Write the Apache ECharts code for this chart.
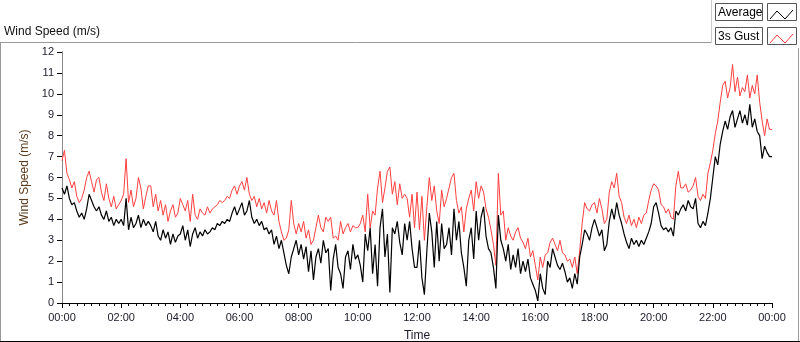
<!DOCTYPE html>
<html>
<head>
<meta charset="utf-8">
<script src="https://cdn.jsdelivr.net/npm/echarts@6/dist/echarts.min.js"></script>
<style>
  html, body { margin: 0; padding: 0; background: #fff; }
  #main { width: 800px; height: 342px; }
</style>
</head>
<body>
<div id="main"></div>
<script>
// one sample every 5 minutes, 00:00 -> 24:00
var stepMin = 5;

// Average (black)
var avgSpeed = [
    5.5, 5.2, 5.6, 5.0, 4.7, 4.8, 4.4, 4.1, 4.3, 4.0, 4.5, 5.2,
    4.9, 4.6, 4.4, 4.6, 4.2, 4.0, 4.4, 3.9, 4.1, 3.7, 4.0, 3.8,
    4.0, 3.7, 5.0, 3.5, 4.1, 3.6, 3.8, 4.2, 3.6, 4.0, 3.7, 3.9,
    3.7, 3.4, 3.9, 3.2, 3.0, 3.5, 3.1, 3.4, 2.8, 3.3, 2.9, 3.2,
    3.3, 3.7, 3.0, 3.5, 2.7, 3.3, 3.6, 3.1, 3.4, 3.2, 3.5, 3.3,
    3.4, 3.6, 3.5, 3.8, 3.7, 3.9, 3.8, 4.0, 3.9, 4.3, 4.6, 4.2,
    4.5, 4.8, 4.2, 4.4, 4.9, 4.1, 3.8, 4.0, 3.7, 3.9, 3.5, 3.6,
    3.3, 3.5, 2.8, 3.2, 2.6, 3.0, 2.4, 1.8, 1.4, 2.2, 2.6, 3.0,
    2.3, 2.8, 2.1, 2.7, 1.5, 2.5, 1.1, 2.2, 2.6, 1.9, 3.0, 2.4,
    2.6, 0.6, 2.1, 2.8, 1.7, 1.4, 0.7, 2.2, 2.5, 1.6, 2.8, 2.1,
    2.3, 1.8, 1.0, 3.3, 2.5, 3.6, 1.4, 2.8, 0.8, 3.6, 4.5, 2.2,
    3.3, 0.5, 3.6, 3.3, 3.9, 2.9, 2.3, 3.8, 3.0, 3.9, 2.6, 1.7,
    1.7, 3.0, 1.2, 0.4, 2.5, 4.3, 3.4, 1.7, 3.9, 2.0, 3.8, 2.6,
    2.8, 3.6, 2.3, 4.5, 3.0, 3.9, 2.4, 1.7, 0.8, 3.0, 3.6, 2.1,
    4.4, 3.0, 4.1, 4.6, 3.2, 2.6, 2.4, 1.7, 0.7, 4.2, 3.0, 2.6,
    2.0, 2.8, 1.6, 2.3, 1.7, 2.6, 1.4, 2.0, 1.5, 2.1, 1.2, 0.9,
    0.6, 0.1, 1.4, 0.7, 0.4, 2.0, 1.7, 2.6, 2.2, 1.8, 1.6, 1.9,
    1.5, 1.0, 1.2, 0.7, 1.4, 0.9, 2.2, 2.8, 3.5, 3.3, 3.0, 3.6,
    4.0, 3.6, 3.2, 3.5, 2.5, 2.8, 3.9, 4.5, 4.0, 4.8, 4.2, 3.8,
    3.3, 2.9, 2.6, 3.1, 2.8, 3.0, 2.7, 3.0, 2.8, 3.1, 3.4, 3.8,
    4.6, 4.8, 4.3, 3.7, 3.5, 3.6, 3.4, 3.6, 3.2, 4.4, 4.2, 4.5,
    4.7, 4.4, 4.9, 4.6, 4.5, 5.0, 3.8, 3.6, 3.9, 3.7, 4.3, 5.0,
    6.0, 7.0, 6.6, 7.6, 8.2, 8.7, 8.3, 8.9, 9.2, 8.4, 8.8, 9.2,
    8.6, 9.0, 8.5, 9.5, 8.4, 8.8, 8.2, 8.0, 6.9, 7.5, 7.2, 7.0,
    7.0
];

// 3s Gust (red)
var gustSpeed = [
    6.8, 7.3, 6.2, 5.9, 5.5, 5.8, 5.1, 4.8, 5.0, 5.4, 6.0, 6.3,
    5.8, 5.3, 5.9, 6.0, 5.3, 4.9, 5.7, 5.0, 4.6, 5.1, 4.5, 4.7,
    4.9, 5.2, 6.9, 4.8, 5.4, 4.6, 5.0, 6.0, 5.5, 4.5, 5.1, 5.6,
    5.6, 4.6, 5.2, 4.4, 4.9, 4.2, 4.7, 3.9, 4.4, 4.7, 4.1, 4.3,
    5.0, 4.7, 4.4, 4.9, 3.9, 5.2, 4.2, 4.0, 4.5, 4.3, 4.2, 4.6,
    4.3, 4.5, 4.6, 4.7, 4.9, 4.8, 4.9, 5.1, 5.0, 5.4, 5.6, 5.2,
    5.6, 5.8, 5.4, 6.0, 5.2, 4.9, 5.1, 4.6, 5.0, 4.5, 4.8, 4.3,
    4.9, 4.4, 4.2, 4.9, 3.9, 3.4, 3.0, 3.1, 3.5, 4.9, 3.8, 3.3,
    3.8, 3.4, 3.9, 3.1, 3.5, 2.8, 3.0, 3.6, 4.2, 3.6, 3.4, 4.1,
    3.9, 4.1, 3.1, 3.2, 3.0, 3.9, 3.3, 3.6, 3.8, 3.4, 3.7, 3.6,
    3.6, 3.8, 4.2, 3.4, 5.2, 3.6, 4.4, 4.2, 5.5, 6.3, 4.8, 5.5,
    6.3, 6.5, 5.2, 5.8, 4.7, 5.7, 5.0, 5.2, 5.0, 4.1, 5.2, 3.6,
    5.3, 3.5, 5.1, 3.0, 4.6, 6.0, 4.9, 5.6, 4.4, 3.8, 5.4, 4.6,
    5.0, 5.5, 6.0, 6.2, 4.9, 4.3, 4.6, 3.4, 4.5, 5.0, 5.4, 4.4,
    5.8, 5.0, 5.6, 5.3, 4.5, 4.1, 3.5, 2.8, 1.8, 6.2, 4.2, 4.4,
    3.0, 3.6, 3.2, 3.0, 3.4, 3.6, 3.1, 2.9, 2.6, 3.1, 2.2, 2.5,
    1.8, 1.1, 2.2, 1.7, 2.3, 2.4, 2.9, 3.1, 2.8, 2.5, 3.0, 2.4,
    2.3, 2.0, 2.1, 1.7, 2.2, 1.4, 2.5, 3.8, 4.8, 4.5, 4.4, 4.7,
    4.8, 4.3, 5.0, 4.5, 3.8, 4.0, 5.3, 5.8, 5.5, 6.2, 5.1, 4.8,
    4.1, 3.8, 4.2, 3.7, 4.0, 3.6, 4.1, 3.8, 4.2, 4.3, 4.9, 5.4,
    5.7, 5.6, 5.4, 4.7, 4.6, 4.3, 4.5, 4.1, 4.0, 5.6, 6.3, 5.5,
    5.5, 5.7, 5.3, 5.4, 5.6, 6.0, 5.1, 4.9, 5.2, 5.0, 6.2, 6.7,
    7.3, 8.1, 8.7, 9.6, 10.4, 10.6, 9.8, 10.3, 11.4, 10.1, 10.8, 9.9,
    10.3, 10.1, 10.9, 9.8, 10.4, 10.0, 10.9, 9.6, 8.7, 8.0, 8.8, 8.3,
    8.3
];

var seriesNames = ['Average', '3s Gust'];
var seriesColors = ['#000000', '#ff4040'];

function toPairs(arr) {
    return arr.map(function (v, i) { return [i * stepMin, v]; });
}

function timeLabel(v) {
    var h = Math.floor(v / 60) % 24;
    return (h < 10 ? '0' : '') + h + ':00';
}

var font = 'Liberation Sans';
var txtColor = '#1a1a2a';

// legend boxes drawn like the LabVIEW plot legend
function legendRow(y, name, color) {
    return [{
        type: 'rect', shape: { x: 715.5, y: y + 0.5, width: 47, height: 17 },
        style: { fill: '#fff', stroke: '#555', lineWidth: 1 }
    }, {
        type: 'text', x: 718, y: y + 9.5,
        style: { text: name, font: '12px ' + font, fill: '#000', textVerticalAlign: 'middle' }
    }, {
        type: 'rect', shape: { x: 767.5, y: y + 0.5, width: 29, height: 17 },
        style: { fill: '#fff', stroke: '#555', lineWidth: 1 }
    }, {
        type: 'polyline',
        shape: { points: [[770, y + 16], [777, y + 8], [785, y + 16], [793, y + 7]] },
        style: { stroke: color, lineWidth: 1, fill: null }
    }];
}

var myChart = echarts.init(document.getElementById('main'));

var option = {
    animation: false,
    backgroundColor: '#fff',
    title: {
        text: 'Wind Speed (m/s)',
        left: 4, top: 26, padding: 0,
        textStyle: { fontFamily: font, fontSize: 12, fontWeight: 'normal', color: '#111' }
    },
    grid: { left: 62, right: 28, top: 52, bottom: 39, outerBoundsMode: 'none' },
    xAxis: [{
        type: 'value',
        min: 0, max: 1440, interval: 120,
        name: 'Time',
        nameLocation: 'middle',
        nameGap: 27,
        nameTextStyle: { fontFamily: font, fontSize: 12, color: txtColor },
        axisLine: { lineStyle: { color: '#777', width: 1 } },
        axisTick: { length: 5, lineStyle: { color: '#000' } },
        minorTick: { show: true, splitNumber: 8, length: 3, lineStyle: { color: '#000' } },
        axisLabel: {
            formatter: timeLabel, margin: 9, showMinLabel: true, showMaxLabel: true,
            fontFamily: font, fontSize: 11, color: txtColor
        },
        splitLine: { show: false }
    }, {
        type: 'value', position: 'top', min: 0, max: 1440,
        axisLine: { show: true, lineStyle: { color: '#000' } },
        axisTick: { show: false }, axisLabel: { show: false }, splitLine: { show: false }
    }],
    yAxis: [{
        type: 'value',
        min: 0, max: 12, interval: 1,
        name: 'Wind Speed (m/s)',
        nameLocation: 'middle',
        nameGap: 25,
        nameTextStyle: { fontFamily: font, fontSize: 12, color: '#5a3a1a' },
        axisLine: { show: true, lineStyle: { color: '#000' } },
        axisTick: { show: true, length: 5, lineStyle: { color: '#000' } },
        axisLabel: { margin: 8, fontFamily: font, fontSize: 11, color: txtColor },
        splitLine: { show: false }
    }, {
        type: 'value', position: 'right', min: 0, max: 12,
        axisLine: { show: true, lineStyle: { color: '#888' } },
        axisTick: { show: false }, axisLabel: { show: false }, splitLine: { show: false }
    }],
    graphic: [
        // outer panel frame
        { type: 'line', shape: { x1: 0, y1: 42.5, x2: 711, y2: 42.5 }, style: { stroke: '#999', lineWidth: 1 } },
        { type: 'line', shape: { x1: 0.5, y1: 42, x2: 0.5, y2: 342 }, style: { stroke: '#999', lineWidth: 1 } },
        { type: 'line', shape: { x1: 711.5, y1: 0, x2: 711.5, y2: 43 }, style: { stroke: '#ccc', lineWidth: 1 } },
        { type: 'line', shape: { x1: 798.5, y1: 48, x2: 798.5, y2: 342 }, style: { stroke: '#999', lineWidth: 1 } },
        { type: 'line', shape: { x1: 0, y1: 341.5, x2: 800, y2: 341.5 }, style: { stroke: '#000', lineWidth: 1 } }
    ].concat(legendRow(3, seriesNames[0], seriesColors[0]))
     .concat(legendRow(27, seriesNames[1], seriesColors[1])),
    series: [{
        name: seriesNames[1],
        type: 'line',
        showSymbol: false,
        data: toPairs(gustSpeed),
        lineStyle: { color: seriesColors[1], width: 1 },
        z: 2
    }, {
        name: seriesNames[0],
        type: 'line',
        showSymbol: false,
        data: toPairs(avgSpeed),
        lineStyle: { color: seriesColors[0], width: 1.2 },
        z: 3
    }]
};

myChart.setOption(option);
</script>
</body>
</html>
